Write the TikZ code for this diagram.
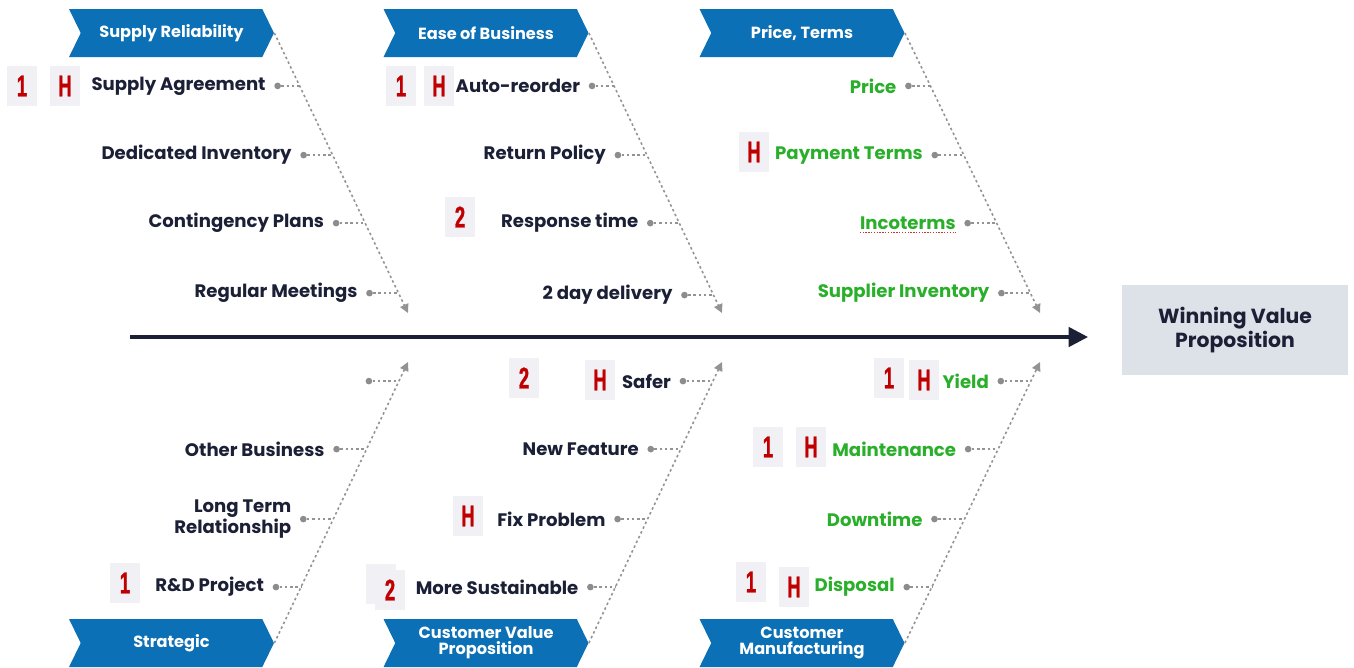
\documentclass[tikz,border=0pt]{standalone}
\usepackage{fontspec}
\setmainfont{Poppins}
\newfontfamily\badgefont[FakeStretch=0.62,FakeBold=1.2]{Liberation Sans}
\usetikzlibrary{arrows.meta,shapes.symbols,calc}
\definecolor{bannerblue}{HTML}{0B70B5}
\definecolor{navy}{HTML}{1C2036}
\definecolor{leafgreen}{HTML}{2AAF2A}
\definecolor{boxgray}{HTML}{DDE1E8}
\definecolor{badgebg}{HTML}{F1F1F5}
\definecolor{badgered}{HTML}{C00000}

\begin{document}
\begin{tikzpicture}[x=0.02cm, y=-0.02cm,
    banner/.style={signal, signal from=west, signal to=east, signal pointer angle=128,
      fill=bannerblue, text=white, font=\bfseries\fontsize{9.2}{9}\selectfont, align=center,
      minimum width=4.1cm, minimum height=0.96cm, inner sep=0pt},
    bone/.style={gray!85, line width=0.9pt, dash pattern=on 1.4pt off 1.6pt,
      -{Triangle[length=5pt,width=5pt]}},
    twig/.style={gray!85, line width=0.9pt, dash pattern=on 1.4pt off 1.6pt},
    knot/.style={circle, fill=gray!90, inner sep=0pt, minimum size=3.8pt},
    cause/.style={font=\bfseries\fontsize{10.3}{12}\selectfont, anchor=east, align=right, inner sep=0pt},
    badge/.style={fill=badgebg, text=badgered, font=\badgefont\bfseries\fontsize{17}{17}\selectfont,
      minimum width=0.6cm, minimum height=0.8cm, inner sep=0pt}]
  \useasboundingbox (0,0) rectangle (1354,667);

  % head of the fish
  \node[fill=boxgray, minimum width=4.52cm, minimum height=1.8cm, align=center, text=navy,
    font=\bfseries\fontsize{11.6}{13.5}\selectfont] (win) at (1235,330) {Winning Value\\Proposition};
  \coordinate (tail) at (130,337); \coordinate (head) at (1088,337);
  \draw[navy, line width=2pt, -{Triangle[length=11pt,width=11pt]}] (tail) -- (head);

  % category banners and their bones
  \node[banner] (sr) at (171.5,33) {Supply Reliability};
  \node[banner] (eb) at (486,33) {Ease of Business};
  \node[banner] (pt) at (802,33) {Price, Terms};
  \node[banner] (st) at (171.5,643) {Strategic};
  \node[banner] (cv) at (486,643) {Customer Value\\Proposition};
  \node[banner] (cm) at (802,643) {Customer\\Manufacturing};
  \coordinate (sr-end) at (408,313); \coordinate (eb-end) at (722,313); \coordinate (pt-end) at (1040,313);
  \coordinate (st-end) at (408,362); \coordinate (cv-end) at (722,362); \coordinate (cm-end) at (1040,362);
  \foreach \b in {sr,eb,pt,st,cv,cm} {\draw[bone] (\b.east) -- (\b-end);}

  % causes on each bone: position along the bone / twig length / text
  \foreach \f/\d/\t [count=\i] in {0.189/22/Supply Agreement, 0.436/29/Dedicated Inventory, 0.679/29/Contingency Plans, 0.929/29/Regular Meetings} {
    \coordinate (sr-p\i) at ($(sr.east)!\f!(sr-end)$);
    \node[knot] (sr-k\i) at ($(sr-p\i)+(-\d,0)$) {};
    \node[cause, text=navy] (sr-c\i) at ([xshift=-0.16cm]sr-k\i.west) {\t};
    \draw[twig] (sr-k\i) -- (sr-p\i);
  }
  \foreach \f/\d/\t [count=\i] in {0.189/22/Auto-reorder, 0.436/29/Return Policy, 0.679/29/Response time, 0.936/29/2 day delivery} {
    \coordinate (eb-p\i) at ($(eb.east)!\f!(eb-end)$);
    \node[knot] (eb-k\i) at ($(eb-p\i)+(-\d,0)$) {};
    \node[cause, text=navy] (eb-c\i) at ([xshift=-0.16cm]eb-k\i.west) {\t};
    \draw[twig] (eb-k\i) -- (eb-p\i);
  }
  \foreach \f/\d/\t [count=\i] in {0.189/22/Price, 0.436/29/Payment Terms, 0.679/29/Incoterms, 0.929/29/Supplier Inventory} {
    \coordinate (pt-p\i) at ($(pt.east)!\f!(pt-end)$);
    \node[knot] (pt-k\i) at ($(pt-p\i)+(-\d,0)$) {};
    \node[cause, text=leafgreen] (pt-c\i) at ([xshift=-0.16cm]pt-k\i.west) {\t};
    \draw[twig] (pt-k\i) -- (pt-p\i);
  }
  \foreach \f/\d/\t [count=\i] in {0.932/30/{}, 0.690/30/Other Business, 0.441/30/{Long Term\\Relationship}, 0.199/25/R\&D Project} {
    \coordinate (st-p\i) at ($(st.east)!\f!(st-end)$);
    \node[knot] (st-k\i) at ($(st-p\i)+(-\d,0)$) {};
    \node[cause, text=navy] (st-c\i) at ([xshift=-0.16cm]st-k\i.west) {\t};
    \draw[twig] (st-k\i) -- (st-p\i);
  }
  \foreach \f/\d/\t [count=\i] in {0.932/30/Safer, 0.690/30/New Feature, 0.441/30/Fix Problem, 0.199/25/More Sustainable} {
    \coordinate (cv-p\i) at ($(cv.east)!\f!(cv-end)$);
    \node[knot] (cv-k\i) at ($(cv-p\i)+(-\d,0)$) {};
    \node[cause, text=navy] (cv-c\i) at ([xshift=-0.16cm]cv-k\i.west) {\t};
    \draw[twig] (cv-k\i) -- (cv-p\i);
  }
  \foreach \f/\d/\t [count=\i] in {0.932/30/Yield, 0.690/30/Maintenance, 0.441/30/Downtime, 0.199/25/Disposal} {
    \coordinate (cm-p\i) at ($(cm.east)!\f!(cm-end)$);
    \node[knot] (cm-k\i) at ($(cm-p\i)+(-\d,0)$) {};
    \node[cause, text=leafgreen] (cm-c\i) at ([xshift=-0.16cm]cm-k\i.west) {\t};
    \draw[twig] (cm-k\i) -- (cm-p\i);
  }
  \draw[badgered!80, line width=0.7pt, dash pattern=on 0.8pt off 0.8pt]
    ([yshift=-1.5pt]pt-c3.south west) -- ([yshift=-1.5pt]pt-c3.south east);

  % priority badges
  \foreach \x/\y/\m [count=\i] in {22/86/1, 65/86/H, 401/86/1, 439/86/H, 754/152/H, 460/217/2,
      524/378/2, 600/380/H, 889/378/1, 924/380/H, 768/447/1, 811/447/H, 468/516/H,
      381/584/2, 390/590/2, 125/583/1, 751/582/1, 794/587/H}
    {\node[badge] (b\i) at (\x,\y) {\m};}
\end{tikzpicture}
\end{document}
